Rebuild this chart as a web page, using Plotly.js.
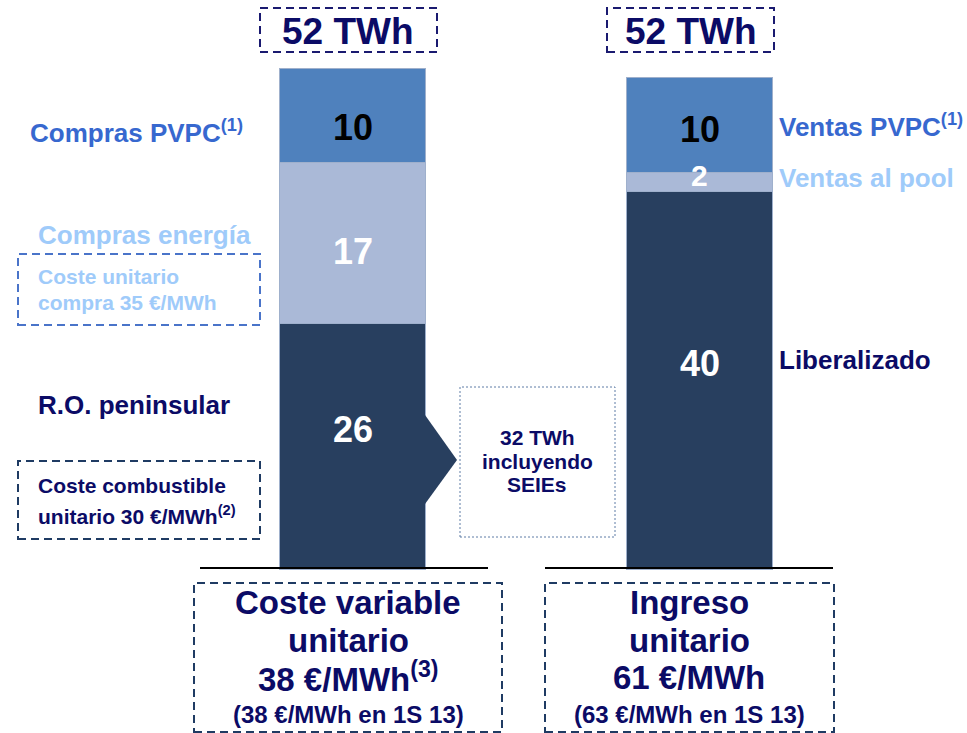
<!DOCTYPE html>
<html>
<head>
<meta charset="utf-8">
<script src="https://cdn.plot.ly/plotly-3.0.1.min.js"></script>
<style>html,body{margin:0;padding:0;background:#fff;}#chart{width:967px;height:733px;}</style>
</head>
<body>
<div id="chart"></div>
<script>
// ---- data ----
const categories = ["Costes", "Ingresos"];
const bottomValues = [26, 40];   // R.O. peninsular / Liberalizado
const middleValues = [17, 2];    // Compras energía / Ventas al pool
const topValues = [10, 10];      // Compras PVPC / Ventas PVPC
const totalLabels = ["52 TWh", "52 TWh"];
const bottomNames = ["R.O. peninsular", "Liberalizado"];
const middleNames = ["Compras energía", "Ventas al pool"];
const topNames = ["Compras PVPC<sup>(1)</sup>", "Ventas PVPC<sup>(1)</sup>"];
const unitLines = [
  ["Coste variable", "unitario", "38 €/MWh<sup>(3)</sup>", "(38 €/MWh en 1S 13)"],
  ["Ingreso", "unitario", "61 €/MWh", "(63 €/MWh en 1S 13)"]
];
const sideNotes = [["Coste unitario", "compra 35 €/MWh"], ["Coste combustible", "unitario 30 €/MWh<sup>(2)</sup>"]];
const transferNote = ["32 TWh", "incluyendo", "SEIEs"];

// ---- styles ----
const W = 967, H = 733;
const X = px => px / W;
const Y = py => 1 - py / H;
const FONT = "Liberation Sans, Arial, sans-serif";
const NAVY = "#0b0b66";
const BLUE = "#3768cf";
const LIGHT = "#9fcbfa";
const C_TOP = "#4f81bd", C_MID = "#aab9d7", C_BOT = "#283f5f";
const barLine = {color: "#9fb0cc", width: 1};

const traces = [
  {type: "bar", x: categories, y: bottomValues, marker: {color: C_BOT, line: barLine}, hoverinfo: "none", width: 0.418},
  {type: "bar", x: categories, y: middleValues, marker: {color: C_MID, line: barLine}, hoverinfo: "none", width: 0.418},
  {type: "bar", x: categories, y: topValues, marker: {color: C_TOP, line: barLine}, hoverinfo: "none", width: 0.418}
];

const ann = [];
function txt(text, x, y, size, color, anchor) {
  ann.push({text: "<b>" + text + "</b>", x: X(x), y: Y(y), xref: "paper", yref: "paper",
    xanchor: anchor || "center", yanchor: "middle", showarrow: false,
    font: {family: FONT, size: size, color: color}});
}

// segment value labels (data coordinates)
const labelSize = [[36, 36, 36], [36, 30, 36]];
const labelShift = [[17, -8, -12], [17, 6, -4]];
categories.forEach((c, i) => {
  const segs = [
    {v: bottomValues[i], base: 0, col: "#ffffff"},
    {v: middleValues[i], base: bottomValues[i], col: "#ffffff"},
    {v: topValues[i], base: bottomValues[i] + middleValues[i], col: "#000000"}
  ];
  segs.forEach((s, k) => {
    ann.push({text: "<b>" + s.v + "</b>", x: c, y: s.base + s.v / 2, xref: "x", yref: "y",
      yshift: labelShift[i][k], showarrow: false,
      font: {family: FONT, size: labelSize[i][k], color: s.col}});
  });
});

// totals
txt(totalLabels[0], 348, 31, 37, NAVY);
txt(totalLabels[1], 690.5, 31, 37, NAVY);

// left side labels
txt(topNames[0], 28, 132, 26, BLUE, "left");
txt(middleNames[0], 36, 235, 26, LIGHT, "left");
txt(sideNotes[0][0], 36, 277, 21, LIGHT, "left");
txt(sideNotes[0][1], 36, 302, 21, LIGHT, "left");
txt(bottomNames[0], 36, 405, 26, NAVY, "left");
txt(sideNotes[1][0], 36, 485, 21, NAVY, "left");
txt(sideNotes[1][1], 36, 515, 21, NAVY, "left");

// right side labels
txt(topNames[1], 777, 125, 26, BLUE, "left");
txt(middleNames[1], 777, 178, 26, LIGHT, "left");
txt(bottomNames[1], 777, 360, 26, NAVY, "left");

// transfer note
txt(transferNote[0], 537, 438, 21, NAVY);
txt(transferNote[1], 537, 461, 21, NAVY);
txt(transferNote[2], 537, 484, 21, NAVY);

// bottom boxes text
const ly = [602, 640, 677, 714];
const lsz = [33, 33, 33, 24];
unitLines[0].forEach((t, k) => txt(t, 348, ly[k], lsz[k], NAVY));
unitLines[1].forEach((t, k) => txt(t, 689, ly[k], lsz[k], NAVY));

function rect(x0, y0, x1, y1, color, width, dash) {
  return {type: "rect", xref: "paper", yref: "paper", x0: X(x0), x1: X(x1), y0: Y(y1), y1: Y(y0),
    line: {color: color, width: width, dash: dash}, fillcolor: "rgba(0,0,0,0)", layer: "above"};
}
function hline(x0, x1, y) {
  return {type: "line", xref: "paper", yref: "paper", x0: X(x0), x1: X(x1), y0: Y(y), y1: Y(y),
    line: {color: "#000000", width: 2}, layer: "above"};
}

const shapes = [
  rect(260, 8, 437, 52, "#1a1a70", 2, "8px,5px"),
  rect(607, 8, 774, 52, "#1a1a70", 2, "8px,5px"),
  rect(18, 254, 260, 325, "#4a74c9", 2, "8px,5px"),
  rect(18, 461, 260, 539, "#1f3b63", 2, "8px,5px"),
  rect(460, 387, 615, 537, "#5f7ca6", 1, "2px,2px"),
  rect(194, 583, 502, 732, "#1f3b63", 2, "8px,5px"),
  rect(545, 583, 834, 732, "#1f3b63", 2, "8px,5px"),
  {type: "path", xref: "paper", yref: "paper",
    path: "M " + X(425) + " " + Y(415) + " L " + X(457) + " " + Y(460) + " L " + X(425) + " " + Y(504) + " Z",
    fillcolor: C_BOT, line: {width: 0}, layer: "above"},
  hline(200, 488, 568),
  hline(545, 833, 568)
];

const layout = {
  width: W, height: H,
  margin: {l: 0, r: 0, t: 0, b: 0},
  paper_bgcolor: "#ffffff", plot_bgcolor: "#ffffff",
  barmode: "stack", showlegend: false,
  xaxis: {type: "category", range: [-1.0159, 1.7709], visible: false, fixedrange: true},
  yaxis: {range: [-17.22, 60.21], visible: false, fixedrange: true},
  annotations: ann, shapes: shapes,
  font: {family: FONT}
};

Plotly.newPlot("chart", traces, layout, {displayModeBar: false, staticPlot: true});
</script>
</body>
</html>
